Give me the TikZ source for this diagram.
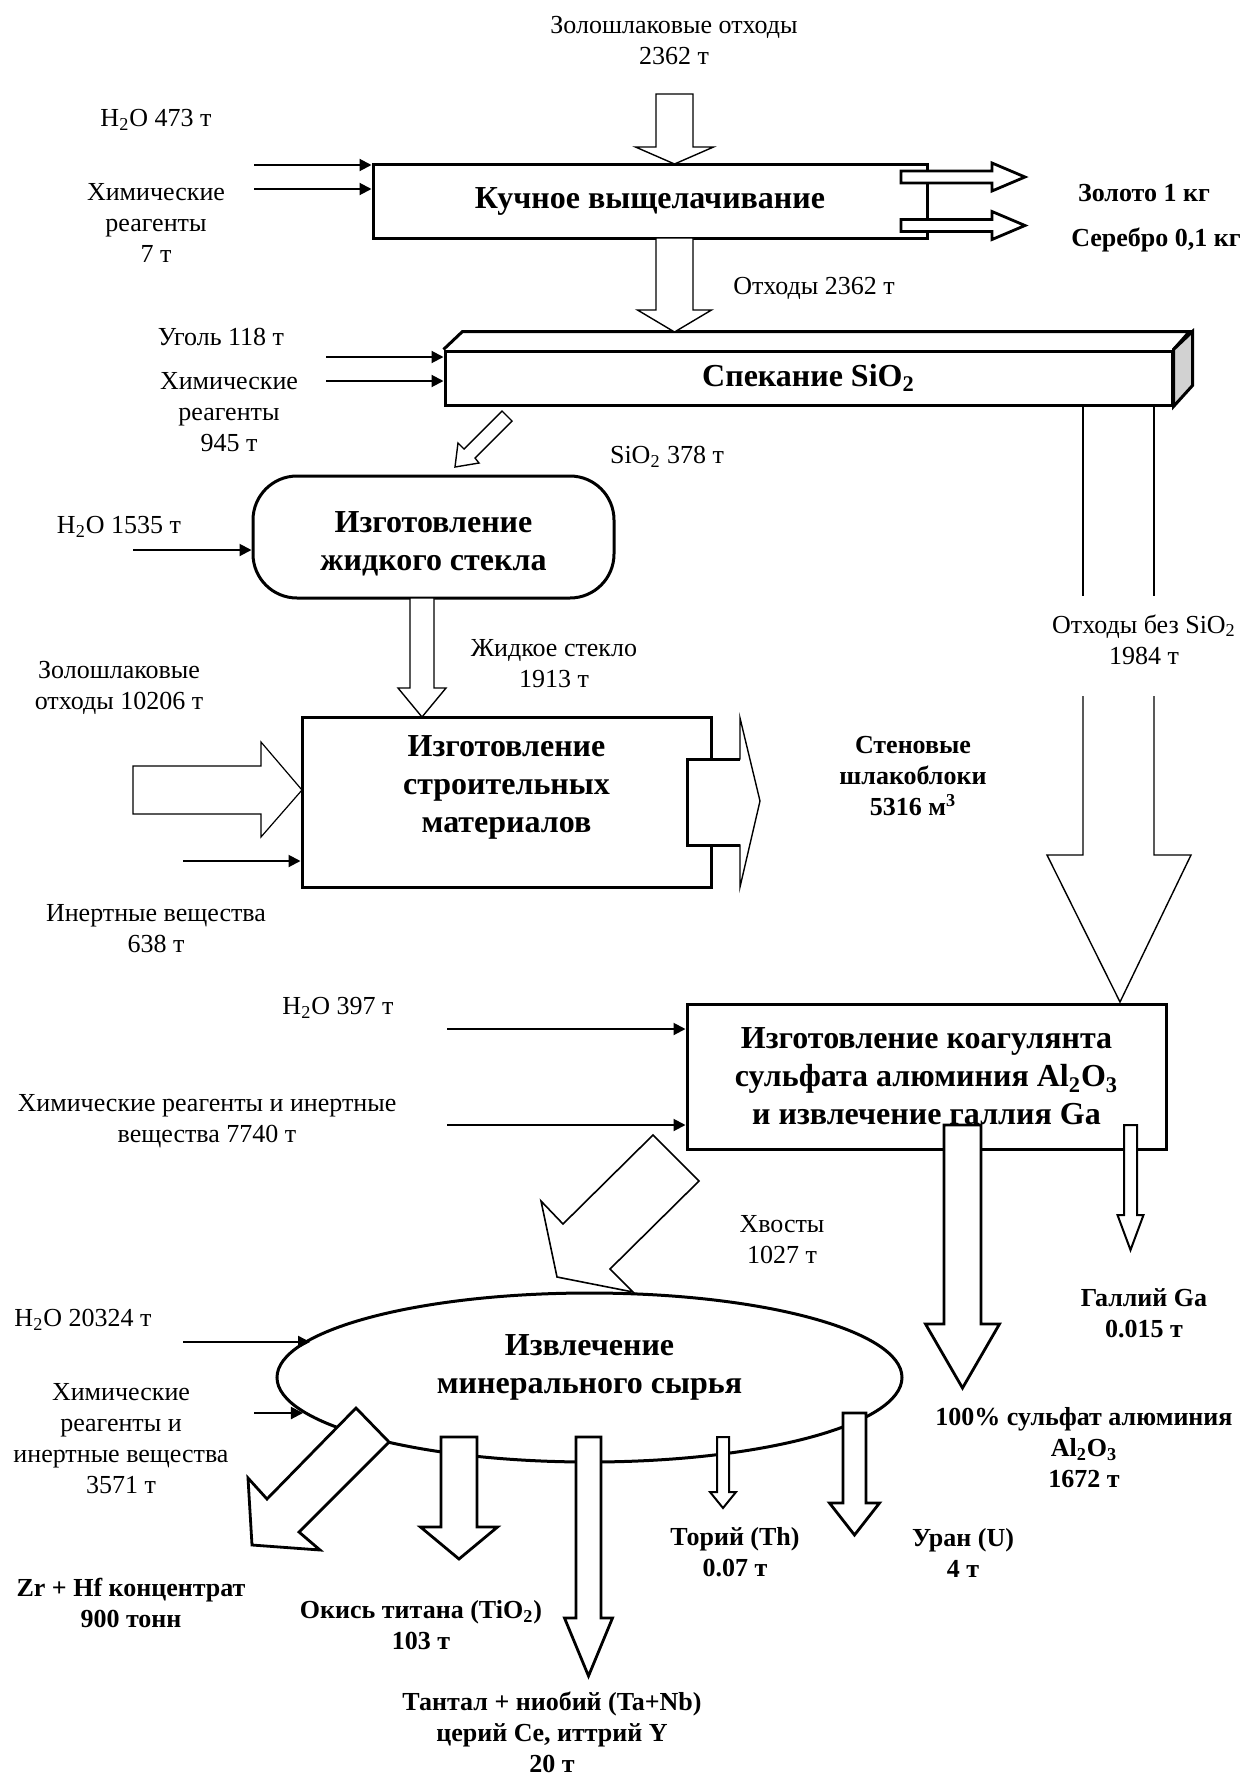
\documentclass[tikz,border=0pt]{standalone}
\usepackage{fontspec}
\setmainfont{Liberation Serif}
\usetikzlibrary{arrows.meta,shapes.geometric}

\tikzset{
  proc/.style={draw, line width=1.5pt, inner sep=0pt},
  title/.style={font=\fontsize{16}{19}\selectfont\bfseries, align=center},
  txt/.style={font=\fontsize{13}{15.5}\selectfont, align=center},
  btxt/.style={font=\fontsize{13}{15.5}\selectfont\bfseries, align=center},
  feed/.style={line width=1pt, -{Triangle[length=6pt,width=6pt]}},
  hollow/.style={fill=white, line width=0.7pt},
  bold arrow/.style={fill=white, line width=1.4pt},
}

% вертикальная полая стрелка: x центра, верх, начало головки, острие, полуширина ствола, полуширина головки
\newcommand{\strelka}[7][]{%
  \filldraw[hollow,#1] ({#2-#6},#3) -- ({#2-#6},#4) -- ({#2-#7},#4) -- (#2,#5)
    -- ({#2+#7},#4) -- ({#2+#6},#4) -- ({#2+#6},#3) -- cycle;}

\begin{document}
\begin{tikzpicture}[x=0.5pt, y=-0.5pt]
    \useasboundingbox (0,0) rectangle (1243,1778);

    % процессы
    \node[proc, title, minimum width=277pt, minimum height=37pt] (kuch) at (650,201) {Кучное выщелачивание};
    \node[proc, title, minimum width=363.5pt, minimum height=27pt] (spek) at (808.5,378) {Спекание SiO\textsubscript{2}};
    \node[proc, rounded corners=22pt, minimum width=180.5pt, minimum height=61pt] (steklo) at (433.5,537) {};
    \node[title] (steklot) at (433.5,543.5) {Изготовление\\жидкого стекла};
    \node[proc, minimum width=204.5pt, minimum height=85pt] (stroy) at (506.5,802) {};
    \node[title] (stroyt) at (506.5,787.5) {Изготовление\\строительных\\материалов};
    \node[proc, title, minimum width=239.5pt, minimum height=72.5pt] (koag) at (926.5,1076.5)
        {Изготовление коагулянта\\сульфата алюминия Al\textsubscript{2}O\textsubscript{3}\\и извлечение галлия Ga};
    \node[proc, ellipse, minimum width=312.5pt, minimum height=84.5pt] (izvl) at (589.5,1377.5) {};
    \node[title] (izvlt) at (589.5,1367.5) {Извлечение\\минерального сырья};

    % объём блока спекания
    \draw[line width=1.5pt] (spek.north west) -- ++(19,-18) -- ++(727,0) -- (spek.north east);
    \filldraw[fill=gray!35, line width=1.5pt] (spek.north east) -- ++(19,-18) -- ++(0,54) -- (spek.south east) -- cycle;

    % кучное выщелачивание
    \node[txt] (zolo) at (674,41) {Золошлаковые отходы\\2362 т};
    \strelka{674.5}{94}{147}{164}{18.5}{39}
    \node[txt] (h2oa) at (156,120) {H\textsubscript{2}O 473 т};
    \node[txt] (hima) at (156,222.5) {Химические\\реагенты\\7 т};
    \coordinate (fa) at (254,165);
    \coordinate (fb) at (254,189);
    \draw[feed] (fa) -- (fa -| kuch.west);
    \draw[feed] (fb) -- (fb -| kuch.west);
    \foreach \yc in {177,225.5}
        \filldraw[bold arrow] (901,\yc-6) -- (992,\yc-6) -- (992,\yc-14) -- (1025,\yc)
            -- (992,\yc+14) -- (992,\yc+6) -- (901,\yc+6) -- cycle;
    \node[btxt] (zoloto) at (1144,193) {Золото 1 кг};
    \node[btxt] (serebro) at (1156,240) {Серебро 0,1 кг};

    % спекание
    \strelka{674.5}{238}{310}{332}{18.5}{37}
    \node[txt] (othod) at (814,288) {Отходы 2362 т};
    \node[txt] (ugol) at (221,337) {Уголь 118 т};
    \node[txt] (himb) at (229,412) {Химические\\реагенты\\945 т};
    \coordinate (fc) at (326,357);
    \coordinate (fd) at (326,381);
    \draw[feed] (fc) -- (fc -| spek.west);
    \draw[feed] (fd) -- (fd -| spek.west);
    \filldraw[hollow] (502,411) -- (512,421) -- (475,458) -- (479,463) -- (455,467)
        -- (458,443) -- (464,449) -- cycle;
    \node[txt] (sio) at (667,457) {SiO\textsubscript{2} 378 т};

    % отходы без SiO2
    \draw[line width=0.7pt] (1083,405) -- (1083,596) (1154,405) -- (1154,596);
    \draw[line width=0.7pt] (1083,696) -- (1083,855) -- (1047,855) -- (1120,1002)
        -- (1191,855) -- (1154,855) -- (1154,696);
    \node[txt] (bezsio) at (1144,639.5) {Отходы без SiO\textsubscript{2}\\1984 т};

    % жидкое стекло
    \node[txt] (h2ob) at (119,527) {H\textsubscript{2}O 1535 т};
    \coordinate (fe) at (133,550);
    \draw[feed] (fe) -- (fe -| steklo.west);
    \strelka{422}{598}{688}{717}{12}{24}
    \node[txt] (zhst) at (554,664) {Жидкое стекло\\1913 т};

    % строительные материалы
    \node[txt] (zolob) at (119,688) {Золошлаковые\\отходы 10206 т};
    \filldraw[hollow, line width=0.6pt] (133,766) -- (261,766) -- (261,742) -- (302,790)
        -- (261,837) -- (261,814) -- (133,814) -- cycle;
    \coordinate (ff) at (183,861);
    \draw[feed] (ff) -- (ff -| stroy.west);
    \node[txt] (inert) at (156,928.5) {Инертные вещества\\638 т};
    \filldraw[hollow] (687,759) -- (740,759) -- (740,718) -- (760,801) -- (740,887)
        -- (740,845) -- (687,845) -- cycle;
    \draw[line width=1.5pt] (740,759) -- (687,759) -- (687,845) -- (740,845);
    \node[btxt] (shlak) at (913,776) {Стеновые\\шлакоблоки\\5316 м\textsuperscript{3}};

    % коагулянт
    \node[txt] (h2oc) at (338,1008) {H\textsubscript{2}O 397 т};
    \node[txt] (himc) at (207,1121) {Химические реагенты и инертные\\вещества 7740 т};
    \coordinate (fg) at (447,1029);
    \coordinate (fh) at (447,1125);
    \draw[feed] (fg) -- (fg -| koag.west);
    \draw[feed] (fh) -- (fh -| koag.west);
    \strelka[bold arrow]{962.5}{1125}{1324}{1388}{18.5}{37}
    \strelka[bold arrow, line width=1pt]{1130.5}{1125}{1215}{1250}{6.5}{13}
    \node[btxt] (gall) at (1144,1313) {Галлий Ga\\0.015 т};
    \node[btxt] (sulf) at (1084,1448) {100\% сульфат алюминия\\Al\textsubscript{2}O\textsubscript{3}\\1672 т};

    % хвосты
    \filldraw[hollow, line width=0.8pt] (653,1135) -- (699,1181) -- (610,1269) -- (633,1292)
        -- (557,1277) -- (541,1201) -- (563,1224) -- cycle;
    \node[txt] (hvost) at (782,1240) {Хвосты\\1027 т};

    % минеральное сырьё
    \node[txt] (h2od) at (83,1320) {H\textsubscript{2}O 20324 т};
    \node[txt] (himd) at (121,1439) {Химические\\реагенты и\\инертные вещества\\3571 т};
    \coordinate (fi) at (183,1342);
    \coordinate (fj) at (254,1413);
    \draw[feed] (fi) -- (fi -| izvl.172.9);
    \draw[feed] (fj) -- (fj -| izvl.187.1);
    \filldraw[bold arrow] (356,1408) -- (389,1442) -- (299,1532) -- (320,1550) -- (252,1545)
        -- (248,1478) -- (267,1499) -- cycle;
    \strelka[bold arrow]{459}{1437}{1527}{1559}{18}{38.5}
    \strelka[bold arrow]{588.5}{1437}{1618}{1676}{12.5}{24}
    \strelka[bold arrow, line width=1pt]{723}{1437}{1492}{1508}{6}{13}
    \strelka[bold arrow]{854.5}{1413}{1503}{1535}{11.5}{25}

    % продукты
    \node[btxt] (zrhf) at (131,1602.5) {Zr + Hf концентрат\\900 тонн};
    \node[btxt] (tio) at (421,1625) {Окись титана (TiO\textsubscript{2})\\103 т};
    \node[btxt] (tanb) at (552,1732) {Тантал + ниобий (Ta+Nb)\\церий Ce, иттрий Y\\20 т};
    \node[btxt] (thor) at (735,1552.5) {Торий (Th)\\0.07 т};
    \node[btxt] (uran) at (963,1552.5) {Уран (U)\\4 т};
\end{tikzpicture}
\end{document}
